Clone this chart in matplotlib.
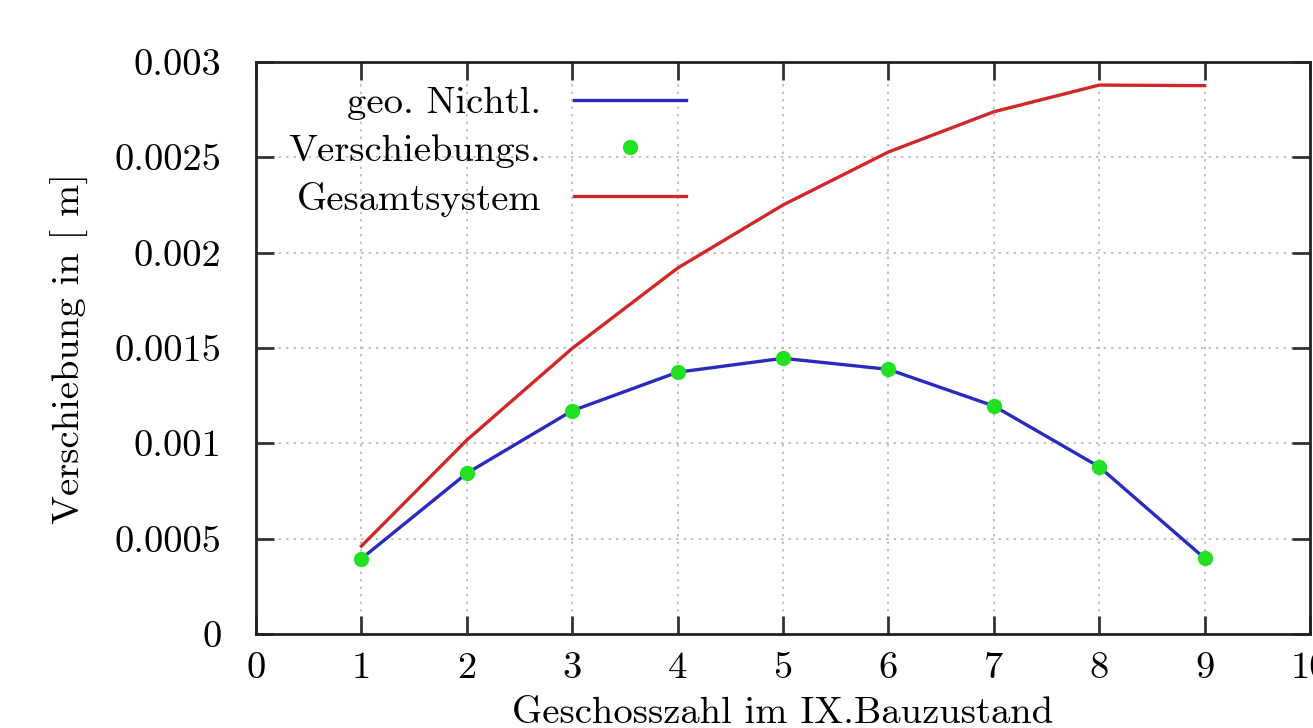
import numpy as np
import matplotlib
matplotlib.use("Agg")
import matplotlib.pyplot as plt

# Daten
geschoss = [1, 2, 3, 4, 5, 6, 7, 8, 9]
geo_nichtl = [0.000395, 0.000843, 0.001171, 0.001373, 0.001446, 0.001388, 0.001196, 0.000877, 0.000397]
verschiebungs = [0.000395, 0.000843, 0.001171, 0.001373, 0.001446, 0.001388, 0.001196, 0.000877, 0.000397]
gesamtsystem = [0.000461, 0.001017, 0.001498, 0.001919, 0.00225, 0.002528, 0.002739, 0.002879, 0.002876]

x_ticks = [0, 1, 2, 3, 4, 5, 6, 7, 8, 9, 10]
y_ticks = [0, 0.0005, 0.001, 0.0015, 0.002, 0.0025, 0.003]
y_ticklabels = ["0", "0.0005", "0.001", "0.0015", "0.002", "0.0025", "0.003"]

plt.rcParams['font.family'] = ['cmr10', 'DejaVu Serif']
plt.rcParams['axes.formatter.use_mathtext'] = True
fs = 27.8

fig = plt.figure(figsize=(13.13, 7.28), dpi=100)
ax = fig.add_axes([256/1313, 94/728, 1054/1313, 572/728])

ax.plot(geschoss, geo_nichtl, color='#2a2ac0', lw=2.4, label='geo. Nichtl.', zorder=3)
ax.plot(geschoss, verschiebungs, 'o', color='#22e022', ms=10, label='Verschiebungs.', zorder=4)
ax.plot(geschoss, gesamtsystem, color='#d02828', lw=2.4, label='Gesamtsystem', zorder=3)

ax.set_xlim(0, 10)
ax.set_ylim(0, 0.003)
ax.set_xticks(x_ticks)
ax.set_xticklabels([str(v) for v in x_ticks])
ax.set_yticks(y_ticks)
ax.set_yticklabels(y_ticklabels)

ax.grid(True, color='#b8b8b8', linestyle=(0, (1.5, 3)), linewidth=1.2)
ax.set_axisbelow(True)

for s in ax.spines.values():
    s.set_linewidth(2.0)
    s.set_color('#222222')
ax.tick_params(direction='in', length=13, width=2, color='#333333',
               top=True, right=True, labelsize=fs)
ax.tick_params(axis='y', pad=25)
ax.tick_params(axis='x', pad=13)

ax.set_xlabel('Geschosszahl im IX.Bauzustand', fontsize=fs, labelpad=8)
ax.set_ylabel('Verschiebung in [ m]', fontsize=fs, labelpad=18)

ax.legend(loc='upper left', bbox_to_anchor=(0.031, 0.958), frameon=False,
          markerfirst=False, numpoints=1, fontsize=fs, handlelength=2.9,
          handletextpad=0.85, labelspacing=0.36, borderpad=0, borderaxespad=0)

fig.savefig('out.png', dpi=100)
